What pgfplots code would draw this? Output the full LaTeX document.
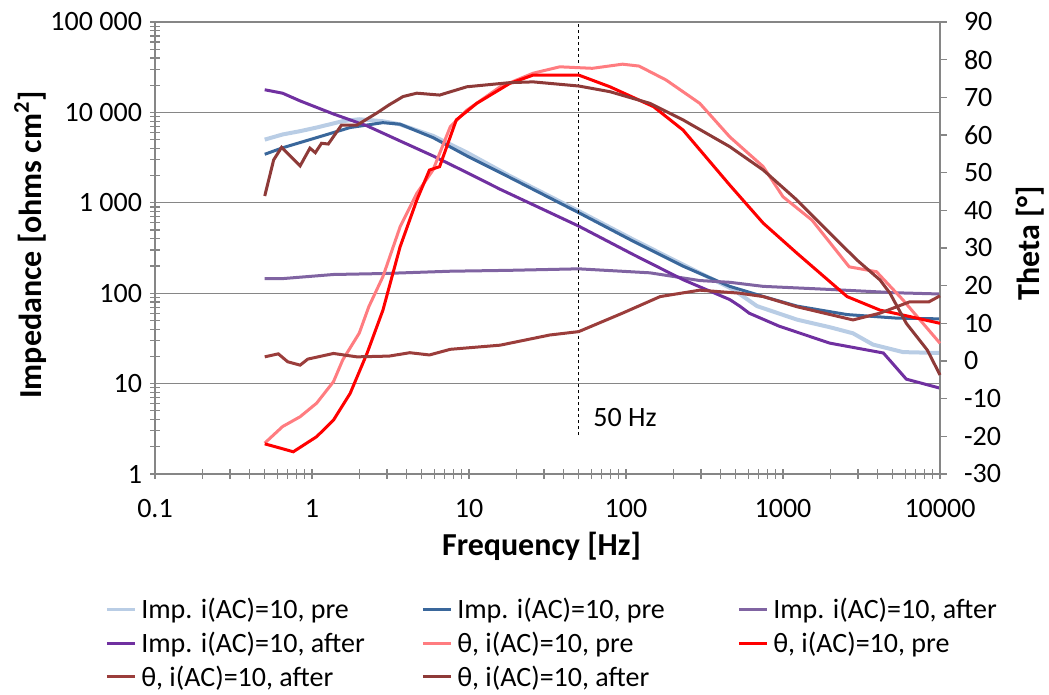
\documentclass[border=0pt]{standalone}
\usepackage{fontspec}
\setmainfont{Carlito}
\usepackage{pgfplots}
\pgfplotsset{compat=1.18}
\definecolor{lblue}{HTML}{B9CDE5}
\definecolor{dblue}{HTML}{3A679B}
\definecolor{lpurple}{HTML}{8064A2}
\definecolor{dpurple}{HTML}{7030A0}
\definecolor{pink}{HTML}{FF7C80}
\definecolor{red}{HTML}{FF0000}
\definecolor{brownA}{HTML}{9B3D3B}
\definecolor{brownB}{HTML}{8E3A38}
\definecolor{axgray}{HTML}{868686}
\newcommand{\tfont}{\fontsize{21}{25}\selectfont}
\newcommand{\lfont}{\fontsize{24}{28}\selectfont\bfseries}
\newcommand{\LE}[1]{\makebox[210pt][l]{#1}}
\pgfplotsset{
  legrow/.style={
    at={(116.25pt,165.75pt)}, anchor=south west,
    scale only axis, width=588.75pt, height=339pt,
    xmin=0, xmax=1, ymin=0, ymax=1, hide axis,
    legend columns=3,
    legend cell align=left,
    legend style={at={(axis description cs:-0.0637,#1)}, anchor=west, draw=none, fill=none, font=\tfont, inner sep=0pt,
      nodes={inner sep=0pt},
      /tikz/every odd column/.append style={column sep=3.75pt},
      /tikz/every even column/.append style={column sep=0pt}},
    legend image code/.code={\draw[##1] (0pt,0pt) -- (21pt,0pt);},
  }
}
\begin{document}
\begin{tikzpicture}
\useasboundingbox (0,0) rectangle (786.75pt,521.25pt);
\begin{axis}[
  at={(116.25pt,165.75pt)}, anchor=south west,
  scale only axis, width=588.75pt, height=339pt,
  xmode=log, ymode=log,
  xmin=0.1, xmax=10000, ymin=1, ymax=100000,
  xtick={0.1,1,10,100,1000,10000},
  xticklabels={0.1,1,10,100,1000,10000},
  minor xtick={0.2,0.3,0.4,0.5,0.6,0.7,0.8,0.9,2,3,4,5,6,7,8,9,20,30,40,50,60,70,80,90,200,300,400,500,600,700,800,900,2000,3000,4000,5000,6000,7000,8000,9000},
  ytick={1,10,100,1000,10000,100000},
  yticklabels={1,10,100,1 000,10 000,100 000},
  minor ytick={2,3,4,5,6,7,8,9,20,30,40,50,60,70,80,90,200,300,400,500,600,700,800,900,2000,3000,4000,5000,6000,7000,8000,9000,20000,30000,40000,50000,60000,70000,80000,90000},
  xtick pos=bottom, ytick pos=left,
  tick align=center,
  major tick length=7.5pt, minor tick length=7.5pt,
  tick style={axgray, line width=0.9pt},
  axis line style={axgray, line width=0.9pt},
  ymajorgrids, major grid style={axgray, line width=1pt},
  tick label style={font=\tfont},
  xticklabel style={yshift=-11.5pt},
  yticklabel style={xshift=-2.5pt},
  xlabel={Frequency [Hz]},
  ylabel={Impedance [ohms cm\textsuperscript{2}]},
  label style={font=\lfont},
  xlabel style={at={(axis description cs:0.4924,-0.159)}, anchor=center},
  ylabel style={at={(axis description cs:-0.159,0.5066)}, anchor=center},
  clip=false,
  every axis plot/.append style={line width=2.25pt},
]
\addplot[lblue, line width=3pt, forget plot] coordinates {
(0.5,5000)(0.65,5700)(0.84,6200)(1.07,6800)(1.57,8000)(2.0,8400)(2.8,8000)(3.6,7400)(5.9,5500)(9.7,3600)(18,2000)(50,810)(111,393)(231,207)(481,110)(683,72)(1228,51)(1992,42)(2790,36)(3743,27)(5810,22.3)(10000,21.8)};
\addplot[dblue, forget plot] coordinates {
(0.5,3440)(0.65,4060)(1.07,5260)(1.75,6800)(2.83,7700)(3.64,7400)(5.9,5260)(9.7,3300)(15.8,2160)(50,777)(111,376)(231,199)(458,119)(748,92)(1228,72)(2560,58)(5300,53)(10000,52)};
\addplot[lpurple, forget plot] coordinates {
(0.5,145)(0.65,145)(1.37,161)(2.83,165)(7.6,175)(18,179)(50,186)(142,168)(295,138)(458,132)(748,119)(1992,110)(5300,101)(10000,98)};
\addplot[dpurple, forget plot] coordinates {
(0.5,17800)(0.65,16300)(0.84,13400)(1.37,9600)(2.24,7100)(3.64,4830)(5.9,3300)(9.7,2160)(15.8,1410)(50,552)(111,268)(231,141)(458,85)(530,72)(610,60)(950,43)(1992,28)(4360,21.8)(6100,11.2)(10000,8.9)};
\addplot[black, line width=0.75pt, dash pattern=on 2.25pt off 2.25pt, forget plot] coordinates {(50,2.7)(50,100000)};
\node[font=\tfont, anchor=center] at (axis cs:98.5,4.18) {50 Hz};
\end{axis}
\begin{axis}[
  at={(116.25pt,165.75pt)}, anchor=south west,
  scale only axis, width=588.75pt, height=339pt,
  xmode=log, xmin=0.1, xmax=10000,
  ymin=-30, ymax=90,
  hide x axis,
  axis y line*=right,
  ytick={-30,-20,-10,0,10,20,30,40,50,60,70,80,90},
  yticklabels={-30,-20,-10,0,10,20,30,40,50,60,70,80,90},
  tick align=outside, major tick length=5pt,
  tick style={axgray, line width=0.9pt},
  axis line style={axgray, line width=0.9pt},
  tick label style={font=\tfont},
  yticklabel style={xshift=9.5pt},
  ylabel={Theta [°]},
  label style={font=\lfont},
  ylabel style={at={(axis description cs:1.1146,0.511)}, anchor=center},
  clip=false,
  every axis plot/.append style={line width=2.25pt},
]
\addplot[pink, forget plot] coordinates {
(0.5,-21.8)(0.65,-17.4)(0.84,-14.8)(1.07,-11.2)(1.37,-5.5)(1.57,0.3)(2.0,7.4)(2.3,14.4)(2.83,22.4)(3.64,35.6)(4.65,44.5)(5.9,50.7)(7.6,62.2)(9.7,66.6)(15.8,72.8)(25.6,76.4)(37.9,78.1)(61,77.7)(95,78.8)(121,78.3)(180,74.6)(295,68.4)(458,59.5)(748,51.6)(1000,43.6)(1530,37.4)(2640,25.0)(3940,23.7)(5810,16.2)(10000,4.7)};
\addplot[red, forget plot] coordinates {
(0.5,-22.0)(0.6,-22.9)(0.76,-24.1)(1.07,-20.1)(1.37,-15.7)(1.75,-8.6)(2.24,2.0)(2.83,13.5)(3.64,30.3)(4.65,42.7)(5.6,50.7)(6.5,51.6)(8.3,64)(11.2,68.4)(18.2,73.7)(25.6,75.9)(50,75.9)(79,72.8)(150,67.5)(231,61.3)(458,46.7)(748,36.6)(1228,28.6)(2560,17.1)(4150,13.5)(5810,12.2)(10000,10.0)};
\addplot[brownA, forget plot] coordinates {
(0.5,1.1)(0.61,1.9)(0.7,-0.2)(0.84,-1.1)(0.94,0.5)(1.37,2.0)(1.93,1.1)(3.1,1.3)(4.2,2.2)(5.6,1.6)(7.6,3.1)(15.8,4.2)(32.7,6.9)(50,7.8)(95,12.7)(165,17.1)(295,18.8)(530,18.0)(748,17.1)(1228,14.4)(2790,10.9)(4150,12.7)(6400,15.7)(8500,15.7)(10000,17.3)};
\addplot[brownB, forget plot] coordinates {
(0.5,43.8)(0.57,53.4)(0.64,56.7)(0.84,51.8)(0.97,56.5)(1.05,55.3)(1.15,57.8)(1.27,57.6)(1.54,62.6)(1.93,62.6)(2.58,65.8)(3.1,68.0)(3.8,70.2)(4.65,71.1)(6.5,70.6)(9.7,72.8)(18.2,73.9)(25.6,74.1)(50,73.0)(79,71.5)(142,68.4)(231,64)(458,56.9)(748,50.7)(1228,42.7)(1992,33.9)(2960,26.8)(4150,21.5)(4800,18.0)(6100,10.0)(8300,2.9)(10000,-3.7)};
\end{axis}
% legend, one row per hidden axis
\begin{axis}[legrow=-0.2987]
\addlegendimage{lblue, line width=2.25pt}\addlegendentry{\LE{Imp. i(AC)=10, pre}}
\addlegendimage{dblue, line width=2.25pt}\addlegendentry{\LE{Imp. i(AC)=10, pre}}
\addlegendimage{lpurple, line width=2.25pt}\addlegendentry{\LE{Imp. i(AC)=10, after}}
\end{axis}
\begin{axis}[legrow=-0.374]
\addlegendimage{dpurple, line width=2.25pt}\addlegendentry{\LE{Imp. i(AC)=10, after}}
\addlegendimage{pink, line width=2.25pt}\addlegendentry{\LE{θ, i(AC)=10, pre}}
\addlegendimage{red, line width=2.25pt}\addlegendentry{\LE{θ, i(AC)=10, pre}}
\end{axis}
\begin{axis}[legrow=-0.449]
\addlegendimage{brownA, line width=2.25pt}\addlegendentry{\LE{θ, i(AC)=10, after}}
\addlegendimage{brownB, line width=2.25pt}\addlegendentry{\LE{θ, i(AC)=10, after}}
\end{axis}
\end{tikzpicture}
\end{document}
